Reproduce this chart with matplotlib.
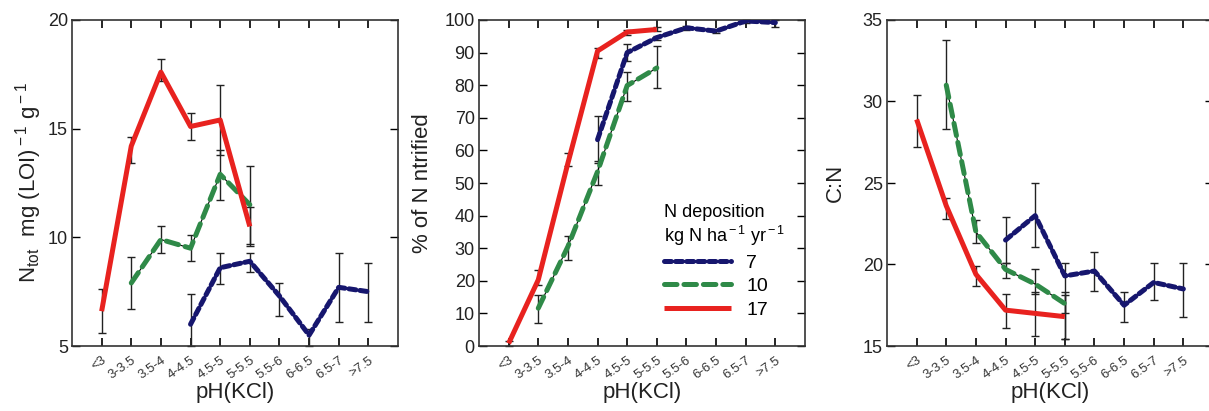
import matplotlib
matplotlib.use("Agg")
import matplotlib.pyplot as plt
import numpy as np

plt.rcParams["font.family"] = ["Liberation Sans", "DejaVu Sans"]
plt.rcParams["mathtext.fontset"] = "custom"
plt.rcParams["mathtext.rm"] = "Liberation Sans"
plt.rcParams["mathtext.it"] = "Liberation Sans"
plt.rcParams["lines.scale_dashes"] = False

# --------------------------------------------------------------------------- #
# data                                                   #
# --------------------------------------------------------------------------- #
ph_classes = ["<3", "3-3.5", "3.5-4", "4-4.5", "4.5-5", "5-5.5",
              "5.5-6", "6-6.5", "6.5-7", ">7.5"]

# N_tot, mg (LOI)-1 g-1
ntot_17 = [6.6, 14.2, 17.6, 15.1, 15.4, 10.5]
ntot_17_lo = [5.6, 13.4, 17.2, 14.5, 13.8, 9.6]
ntot_17_hi = [7.6, 14.6, 18.2, 15.7, 17.0, 11.4]
ntot_10 = [7.9, 9.9, 9.5, 12.9, 11.5]
ntot_10_lo = [6.7, 9.3, 8.9, 11.7, 9.7]
ntot_10_hi = [9.1, 10.5, 10.1, 14.0, 13.3]
ntot_7 = [6.0, 8.6, 8.9, 7.3, 5.5, 7.7, 7.5]
ntot_7_lo = [5.0, 7.85, 8.4, 6.4, 5.0, 6.1, 6.1]
ntot_7_hi = [7.4, 9.3, 9.3, 7.9, 5.8, 9.3, 8.8]

# % of N nitrified
nitr_17 = [0.8, 20.3, 56.1, 90.5, 96.3, 97.1]
nitr_17_lo = [0.0, 18.8, 55.1, 88.4, 95.5, 96.5]
nitr_17_hi = [1.5, 23.4, 59.2, 91.5, 97.0, 97.8]
nitr_10 = [11.6, 30.5, 53.5, 79.9, 85.3]
nitr_10_lo = [7.2, 26.4, 49.5, 75.1, 79.2]
nitr_10_hi = [15.7, 33.8, 56.7, 84.0, 92.0]
nitr_7 = [63.3, 90.0, 94.6, 97.6, 96.6, 99.7, 99.2]
nitr_7_lo = [56.1, 87.4, 94.0, 97.0, 96.0, 99.2, 97.8]
nitr_7_hi = [70.5, 92.7, 95.2, 98.2, 97.2, 100.0, 100.0]

# C:N
cn_17 = [28.9, 23.6, 19.4, 17.2, 17.0, 16.8]
cn_17_lo = [27.2, 22.8, 18.7, 16.1, 15.6, 15.4]
cn_17_hi = [30.4, 24.1, 19.9, 18.2, 18.3, 18.1]
cn_10 = [31.0, 22.0, 19.7, 18.8, 17.6]
cn_10_lo = [28.3, 21.3, 19.15, 18.2, 17.0]
cn_10_hi = [33.8, 22.7, 20.1, 19.7, 18.3]
cn_7 = [21.5, 23.0, 19.3, 19.6, 17.5, 18.9, 18.5]
cn_7_lo = [20.1, 21.1, 15.4, 18.4, 16.5, 17.8, 16.8]
cn_7_hi = [22.9, 25.0, 20.1, 20.75, 18.3, 20.1, 20.1]

first_idx = {"7": 3, "10": 1, "17": 0}
styles = {
    "7":  dict(color="#16166e", dashes=(5, 3)),
    "10": dict(color="#2f8a48", dashes=(9, 5)),
    "17": dict(color="#e8221f", dashes=None),
}

panels = [
    (dict(s7=(ntot_7, ntot_7_lo, ntot_7_hi),
          s10=(ntot_10, ntot_10_lo, ntot_10_hi),
          s17=(ntot_17, ntot_17_lo, ntot_17_hi)),
     (5, 20), np.arange(5, 21, 5),
     "N$_{\\rm tot}$  mg (LOI)$^{\\rm -1}$ g$^{\\rm -1}$", 3),
    (dict(s7=(nitr_7, nitr_7_lo, nitr_7_hi),
          s10=(nitr_10, nitr_10_lo, nitr_10_hi),
          s17=(nitr_17, nitr_17_lo, nitr_17_hi)),
     (0, 100), np.arange(0, 101, 10), "% of N ntrified", 8),
    (dict(s7=(cn_7, cn_7_lo, cn_7_hi),
          s10=(cn_10, cn_10_lo, cn_10_hi),
          s17=(cn_17, cn_17_lo, cn_17_hi)),
     (15, 35), np.arange(15, 36, 5), "C:N", 12),
]

W, H = 1209, 411
fig = plt.figure(figsize=(W / 100, H / 100), dpi=100)
lefts = [72, 479, 887]
axes = [fig.add_axes([l / W, 65 / H, 326 / W, 326 / H]) for l in lefts]

handles = {}
for ax, (series, ylim, yticks, ylabel, lpad) in zip(axes, panels):
    for key in ["7", "10", "17"]:
        vals, lo, hi = series["s" + key]
        x = np.arange(first_idx[key], first_idx[key] + len(vals))
        vals, lo, hi = np.array(vals), np.array(lo), np.array(hi)
        ax.errorbar(x, vals, yerr=[vals - lo, hi - vals], fmt="none",
                    ecolor="#222222", elinewidth=1.0, capsize=3, capthick=1.0,
                    zorder=2, clip_on=False)
        if key != "17":
            ax.plot(x, vals, color="black", lw=0.8, zorder=3)
        st = styles[key]
        ln, = ax.plot(x, vals, color=st["color"], lw=3.6, zorder=4,
                      solid_capstyle="butt", dash_capstyle="round")
        if st["dashes"]:
            ln.set_dashes(st["dashes"])
        handles[key] = ln

    ax.set_xlim(-1, 10)
    ax.set_ylim(*ylim)
    ax.set_yticks(yticks)
    ax.set_xticks(np.arange(len(ph_classes)))
    ax.set_xticklabels(ph_classes, rotation=35, ha="right", va="top",
                       rotation_mode="anchor", fontsize=9.5, color="#333333")
    ax.tick_params(axis="x", direction="in", length=6, width=1.2,
                   top=True, pad=6)
    ax.tick_params(axis="y", direction="in", length=6, width=1.0,
                   right=True, labelsize=13, labelcolor="#222222", pad=3)
    for sp in ax.spines.values():
        sp.set_linewidth(1.2)
        sp.set_color("#333333")
    ax.set_xlabel("pH(KCl)", fontsize=16, labelpad=0, color="#222222")
    ax.set_ylabel(ylabel, fontsize=16, color="#222222", labelpad=lpad)

leg = axes[1].legend([handles["7"], handles["10"], handles["17"]],
                     ["7", "10", "17"],
                     title="N deposition\nkg N ha$^{\\rm -1}$ yr$^{\\rm -1}$",
                     loc="lower right", bbox_to_anchor=(0.995, 0.03),
                     frameon=False, fontsize=14, title_fontsize=13,
                     handlelength=3.4, handletextpad=0.8, labelspacing=0.3)
leg._legend_box.align = "left"

fig.savefig("out.png", dpi=100)
